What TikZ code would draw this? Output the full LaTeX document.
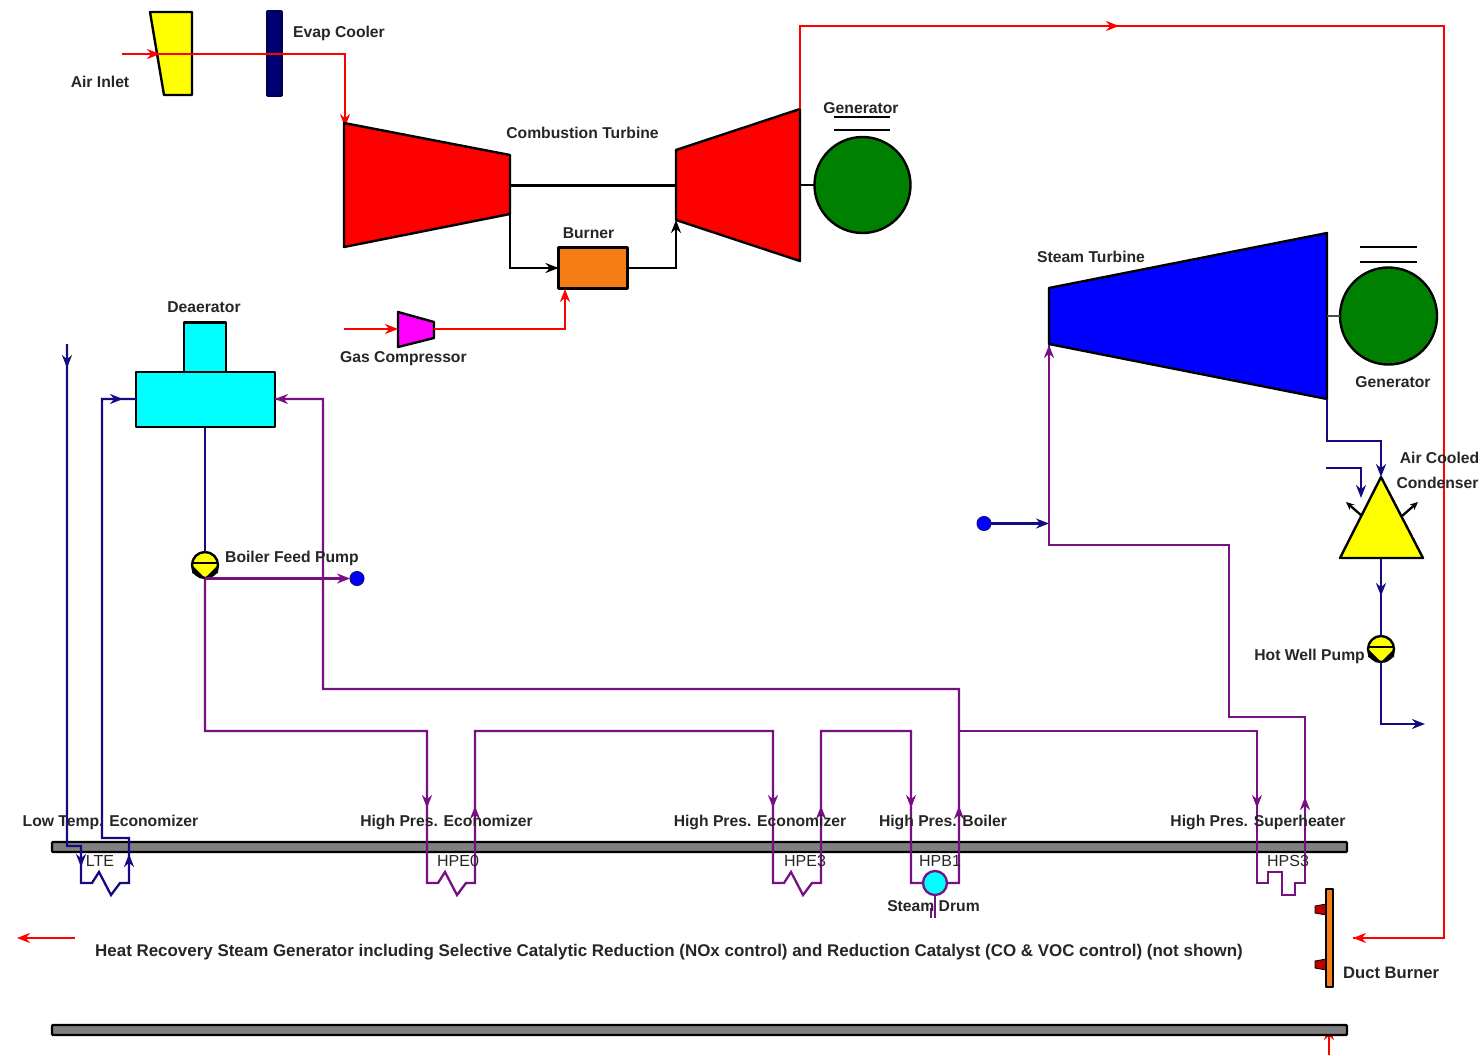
\documentclass[tikz,border=0pt]{standalone}
\usepackage{fontspec}
\setmainfont{Liberation Sans}
\usetikzlibrary{arrows.meta}
\definecolor{mynavy}{RGB}{20,10,130}
\definecolor{mypurple}{RGB}{120,15,130}
\definecolor{mygreen}{RGB}{0,128,0}
\definecolor{myorange}{RGB}{245,125,20}
\definecolor{mygray}{RGB}{128,128,128}
\definecolor{mycyan}{RGB}{0,255,255}
\definecolor{myyellow}{RGB}{255,255,0}
\definecolor{mymagenta}{RGB}{255,0,255}
\definecolor{myblue}{RGB}{0,0,255}
\definecolor{myred}{RGB}{255,0,0}
\tikzset{
 x=1pt,y=-1pt,
 lab/.style={font=\fontsize{15.7}{17}\selectfont\bfseries,text=black!85,inner sep=0pt,yshift=-1.5pt},
 hxlab/.style={font=\fontsize{16}{18}\selectfont,text=black!85,inner sep=0pt},
 body/.style={draw=black,line width=2.4pt,line join=round},
 boxnode/.style={body,inner sep=0pt,outer sep=0pt},
 flow/.style={line width=2.3pt,line join=miter},
 tip/.style={-{Stealth[length=13pt,width=10pt]}},
 fantip/.style={-{Stealth[length=8pt,width=7pt]}},
 air/.style={flow,draw=myred},
 gas/.style={flow,draw=black},
 water/.style={flow,draw=mynavy},
 steam/.style={flow,draw=mypurple},
 zig/.style={insert path={-- ++(11,0) -- ++(7,-11) -- ++(12,23) -- ++(9,-12) -- ++(9,0)}},
 zigsq/.style={insert path={-- ++(11,0) -- ++(0,-11) -- ++(14,0) -- ++(0,23) -- ++(13,0) -- ++(0,-12) -- ++(10,0)}},
 gen/.style={circle,body,fill=mygreen,inner sep=0pt,outer sep=0pt},
 pumpbody/.style={circle,body,fill=myyellow,minimum size=26pt,inner sep=0pt,outer sep=0pt},
 dot/.style={circle,fill=myblue,draw=mynavy,line width=1pt,minimum size=14pt,inner sep=0pt,outer sep=0pt},
 bar/.style={draw=black,line width=2.4pt,fill=mygray,rounded corners=1pt},
}
\newcommand{\pumpmark}[2]{%
 \draw[black,line width=1.8pt] (#1-13,#2-2) -- (#1+13,#2-2);
 \fill[black] (#1-13,#2) -- (#1,#2+13) -- (#1+13,#2) -- (#1+13,#2+8) -- (#1,#2+14) -- (#1-13,#2+8) -- cycle;
 \fill[myyellow] (#1-9,#2) -- (#1+9,#2) -- (#1,#2+10) -- cycle;
}
\begin{document}
\begin{tikzpicture}
\useasboundingbox (0,0) rectangle (1483,1055);
\fill[white] (0,0) rectangle (1483,1055);

% ---- way points
\coordinate (airin) at (122,54);
\coordinate (airmid) at (160,54);
\coordinate (aircorner) at (345,54);
\coordinate (ctin) at (345,127);
\coordinate (ctleftout) at (510,214);
\coordinate (shaftL) at (510,185);
\coordinate (shaftR) at (676,185);
\coordinate (ctrightin) at (676,220);
\coordinate (exh) at (800,109);
\coordinate (exhtop) at (800,26);
\coordinate (exhmid) at (1119,26);
\coordinate (exhright) at (1444,26);
\coordinate (exhlow) at (1444,938);
\coordinate (hrsgin) at (1353,938);
\coordinate (stackA) at (75,938);
\coordinate (stackB) at (17,938);
\coordinate (gasin) at (344,329);
\coordinate (gasmid) at (398,329);
\coordinate (gasout) at (434,329);
\coordinate (burnerin) at (565,289);
\coordinate (ductA) at (1329,1055);
\coordinate (ductB) at (1329,1027);

% ---- gas turbine train
\fill[myyellow,body] (150,12) -- (192,12) -- (192,95) -- (164,95) -- cycle;
\node[boxnode,fill={rgb,255:red,0;green,0;blue,115},draw={rgb,255:red,0;green,0;blue,90},minimum width=14pt,minimum height=84pt] (evap) at (274.5,53.5) {};
\draw[air] (airin) -- (aircorner) -- (ctin);
\draw[air,tip] (airin) -- (airmid);
\draw[air,tip] (aircorner) -- (ctin);

\fill[myred,body] (344,123) -- (510,155) -- (510,214) -- (344,247) -- cycle;
\fill[myred,body] (676,150) -- (800,109) -- (800,261) -- (676,220) -- cycle;
\draw[gas,line width=3pt] (shaftL) -- (shaftR);
\node[gen,minimum size=96pt] (gen1) at (862.5,185) {};
\draw[gas] (800,185) -- (gen1.west);
\draw[gas] (834,117) -- (890,117) (834,130) -- (890,130);

\node[boxnode,fill=myorange,minimum width=69pt,minimum height=41pt] (burner) at (593,268) {};
\draw[gas,tip] (ctleftout) |- (burner.west);
\draw[gas,tip] (burner.east) -| (ctrightin);

\fill[mymagenta,body] (398,312) -- (434,322) -- (434,338) -- (398,347) -- cycle;
\draw[air,tip] (gasin) -- (gasmid);
\draw[air,tip] (gasout) -| (burnerin);

\draw[air] (exh) -- (exhtop) -- (exhright) -- (exhlow) -- (hrsgin);
\draw[air,tip] (exhtop) -- (exhmid);
\draw[air,tip] (exhlow) -- (hrsgin);
\draw[air,tip] (stackA) -- (stackB);
\draw[air,tip] (ductA) -- (ductB);

% ---- bars
\draw[bar] (52,842) rectangle (1347,852);
\draw[bar] (52,1025) rectangle (1347,1035);

% ---- deaerator
\node[boxnode,fill=mycyan,minimum width=42pt,minimum height=50pt] (datop) at (205,347.5) {};
\node[boxnode,fill=mycyan,minimum width=139pt,minimum height=55pt] (da) at (205.5,399.5) {};

% ---- feed pump
\node[pumpbody] (bfp) at (205,565) {};
\pumpmark{205}{565}
\node[dot] (bfpdot) at (357,578.5) {};
\draw[water] (da.south -| bfp) -- (bfp.north);

% ---- water, low temp economizer
\coordinate (mk) at (67,344);
\coordinate (mkarrow) at (67,368);
\coordinate (lteA) at (67,846);
\coordinate (lteB) at (81,846);
\coordinate (lteC) at (81,883);
\coordinate (lteArrow) at (81,867);
\coordinate (lteD) at (129,883);
\coordinate (lteE) at (129,838);
\coordinate (lteUp) at (129,854);
\coordinate (lteF) at (102,838);
\coordinate (lteG) at (102,399);
\coordinate (lteH) at (123,399);
\draw[water] (mk) -- (lteA) -- (lteB) -- (lteC) [zig] -- (lteE) -- (lteF) -- (lteG) -- (da.west |- lteG);
\draw[water,tip] (mk) -- (mkarrow);
\draw[water,tip] (lteB) -- (lteArrow);
\draw[water,tip] (lteD) -- (lteUp);
\draw[water,tip] (lteG) -- (lteH);

% ---- high-pressure loop
\coordinate (p0) at (205,578.5);
\coordinate (p1) at (205,731);
\coordinate (e0a) at (427,731);
\coordinate (e0b) at (427,883);
\coordinate (e0c) at (475,883);
\coordinate (e0d) at (475,731);
\coordinate (e3a) at (773,731);
\coordinate (e3b) at (773,883);
\coordinate (e3c) at (821,883);
\coordinate (e3d) at (821,731);
\coordinate (b1a) at (911,731);
\coordinate (b1b) at (911,883);
\coordinate (b1c) at (959,883);
\coordinate (b1d) at (959,689);
\coordinate (b1e) at (323,689);
\coordinate (b1f) at (323,399);
\coordinate (s3j) at (959,731);
\coordinate (s3a) at (1257,731);
\coordinate (s3b) at (1257,883);
\coordinate (s3c) at (1305,883);
\coordinate (s3d) at (1305,717);
\coordinate (s3e) at (1229,717);
\coordinate (s3f) at (1229,545);
\coordinate (s3g) at (1049,545);
\coordinate (stin) at (1049,345);
\draw[steam] (p0) -- (p1) -- (e0a) -- (e0b) [zig] -- (e0d) -- (e3a) -- (e3b) [zig] -- (e3d) -- (b1a) -- (b1b) -- (b1c) -- (b1d) -- (b1e) -- (b1f) -- (da.east |- b1f);
\draw[steam] (s3j) -- (s3a) -- (s3b) [zigsq] -- (s3d) -- (s3e) -- (s3f) -- (s3g) -- (stin);
\draw[steam,tip] (e0a) -- (427,808);
\draw[steam,tip] (e0c) -- (475,806);
\draw[steam,tip] (e3a) -- (773,808);
\draw[steam,tip] (e3c) -- (821,806);
\draw[steam,tip] (b1a) -- (911,808);
\draw[steam,tip] (b1c) -- (959,806);
\draw[steam,tip] (s3a) -- (1257,808);
\draw[steam,tip] (s3c) -- (1305,797);
\draw[steam,tip] (b1f) -- (da.east |- b1f);
\draw[steam,tip] (s3g) -- (stin);
\draw[steam,tip] (p0) -- (bfpdot.west);

% ---- steam drum
\node[circle,fill=mycyan,draw=mypurple,line width=2.3pt,minimum size=24pt,inner sep=0pt,outer sep=0pt] (drum) at (935,883) {};
\coordinate (drumA) at (935,918);
\coordinate (drumB) at (931,918);
\coordinate (drumC) at (931,908);
\draw[steam] (drum.south) -- (drumA) (drumC) -- (drumB);

% ---- steam turbine
\fill[myblue,body] (1049,288) -- (1327,233) -- (1327,399) -- (1049,344) -- cycle;
\node[gen,minimum size=97pt] (gen2) at (1388.5,316) {};
\draw[flow,draw=black!70,line width=1.6pt] (1327,316) -- (gen2.west);
\draw[gas] (1360,247) -- (1417,247) (1360,262) -- (1417,262);
\node[dot] (stdot) at (984,523.5) {};
\coordinate (stdotin) at (1049,523.5);
\draw[water,tip] (stdot.east) -- (stdotin);

% ---- condenser
\coordinate (stex) at (1327,399);
\coordinate (stexb) at (1327,441);
\coordinate (cond) at (1381,477);
\coordinate (cdw) at (1326,468);
\coordinate (cdwb) at (1361,468);
\coordinate (cdwc) at (1361,498);
\coordinate (cout) at (1381,558);
\coordinate (coutm) at (1381,596);
\coordinate (hwc) at (1381,724);
\coordinate (hwd) at (1425,724);
\coordinate (fanLa) at (1362,516);
\coordinate (fanLb) at (1346,502);
\coordinate (fanRa) at (1402,516);
\coordinate (fanRb) at (1418,502);
\draw[water,tip] (stex) -- (stexb) -| (cond);
\draw[water,tip] (cdw) -| (cdwc);
\draw[gas,fantip] (fanLa) -- (fanLb);
\draw[gas,fantip] (fanRa) -- (fanRb);
\fill[myyellow,body] (1381,477) -- (1423,558) -- (1340,558) -- cycle;
\node[pumpbody] (hwp) at (1381,649) {};
\pumpmark{1381}{649}
\draw[water] (cout) -- (hwp.north);
\draw[water,tip] (cout) -- (coutm);
\draw[water,tip] (hwp.south) -- (hwc) -- (hwd);

% ---- duct burner
\fill[red!75!black,draw=black,line width=0.8pt] (1315,906) -- (1326,904) -- (1326,915) -- (1315,913) -- cycle;
\fill[red!75!black,draw=black,line width=0.8pt] (1315,961) -- (1326,959) -- (1326,970) -- (1315,968) -- cycle;
\node[boxnode,fill=myorange,line width=1.6pt,minimum width=7pt,minimum height=98pt] (duct) at (1329.5,938) {};

% ---- labels
\node[lab] (tAir) at (100,80.5) {Air Inlet};
\node[lab,anchor=west] (tEvap) at (293,32) {Evap Cooler};
\node[lab] (tCT) at (582.5,131) {Combustion Turbine};
\node[lab] (tGen1) at (861,107) {Generator};
\node[lab] (tBurner) at (588.5,232) {Burner};
\node[lab] (tDA) at (204,306) {Deaerator};
\node[lab,anchor=west] (tGC) at (340,357) {Gas Compressor};
\node[lab,anchor=west] (tBFP) at (225,557) {Boiler Feed Pump};
\node[lab] (tST) at (1091,255.5) {Steam Turbine};
\node[lab] (tGen2) at (1393,381) {Generator};
\node[lab] (tACa) at (1439.5,456) {Air Cooled};
\node[lab] (tACb) at (1437.5,481) {Condenser};
\node[lab,anchor=east] (tHW) at (1365,655) {Hot Well Pump};
\node[lab] (tLTE) at (110.5,821) {Low Temp. Economizer};
\node[lab] (tE0) at (446.5,821) {High Pres. Economizer};
\node[lab] (tE3) at (760,821) {High Pres. Economizer};
\node[lab] (tB1) at (943,821) {High Pres. Boiler};
\node[lab] (tS3) at (1258,821) {High Pres. Superheater};
\node[hxlab] (hxL) at (100,861) {LTE};
\node[hxlab] (hx0) at (458,861) {HPE0};
\node[hxlab] (hx3) at (805,861) {HPE3};
\node[hxlab] (hxB) at (940,861) {HPB1};
\node[hxlab] (hxS) at (1288,861) {HPS3};
\node[lab] (tDrum) at (933.5,904.5) {Steam Drum};
\node[lab,anchor=west,font=\fontsize{16.93}{19}\selectfont\bfseries] (tHRSG) at (95,951) {Heat Recovery Steam Generator including Selective Catalytic Reduction (NOx control) and Reduction Catalyst (CO \& VOC control) (not shown)};
\node[lab,anchor=west,font=\fontsize{16.6}{18}\selectfont\bfseries] (tDB) at (1343,971) {Duct Burner};
\end{tikzpicture}
\end{document}
